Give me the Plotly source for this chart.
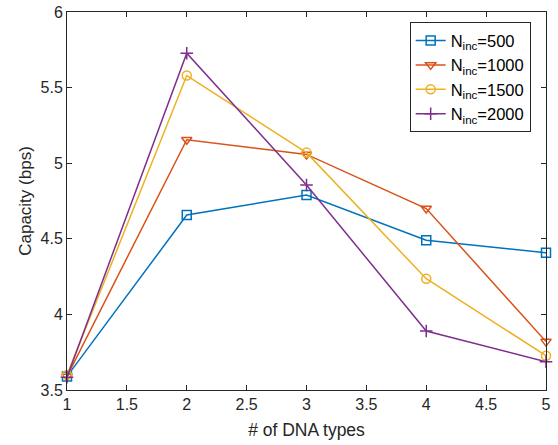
import plotly.graph_objects as go

x_types = [1, 2, 3, 4, 5]
cap_500 = [3.59, 4.657, 4.79, 4.49, 4.408]
cap_1000 = [3.59, 5.155, 5.058, 4.70, 3.82]
cap_1500 = [3.60, 5.58, 5.07, 4.236, 3.727]
cap_2000 = [3.585, 5.727, 4.856, 3.89, 3.687]

series = [
    ("N<sub>inc</sub>=500", cap_500, "#0072BD", "square-open"),
    ("N<sub>inc</sub>=1000", cap_1000, "#D95319", "triangle-down-open"),
    ("N<sub>inc</sub>=1500", cap_1500, "#EDB120", "circle-open"),
    ("N<sub>inc</sub>=2000", cap_2000, "#7E2F8E", "cross-thin-open"),
]

fig = go.Figure()
for name, ys, color, sym in series:
    fig.add_trace(go.Scatter(
        x=x_types, y=ys, mode="lines+markers", name=name, cliponaxis=False,
        line=dict(color=color, width=1.5),
        marker=dict(symbol=sym, size=9, color=color, line=dict(color=color, width=1.5)),
    ))

axis_common = dict(
    showgrid=False, zeroline=False, showline=True, mirror="ticks",
    linecolor="#262626", linewidth=1, ticks="inside", ticklen=5,
    tickcolor="#262626", automargin=False,
    tickfont=dict(family="Liberation Sans, Arial", size=16, color="#262626"),
)

fig.update_layout(
    width=558, height=445,
    margin=dict(l=67, r=12, t=12, b=55, autoexpand=False),
    paper_bgcolor="white", plot_bgcolor="white",
    font=dict(family="Liberation Sans, Arial", color="#262626"),
    xaxis=dict(range=[1, 5], tickvals=[1, 1.5, 2, 2.5, 3, 3.5, 4, 4.5, 5],
               ticktext=["1", "1.5", "2", "2.5", "3", "3.5", "4", "4.5", "5"],
               title=dict(text="# of DNA types", font=dict(size=17.5), standoff=11),
               **axis_common),
    yaxis=dict(range=[3.5, 6], tickvals=[3.5, 4, 4.5, 5, 5.5, 6],
               ticktext=["3.5", "4", "4.5", "5", "5.5", "6"],
               title=dict(text="Capacity (bps)", font=dict(size=17), standoff=4),
               **axis_common),
    legend=dict(x=0.968, y=0.973, xanchor="right", yanchor="top",
                bordercolor="#262626", borderwidth=1, bgcolor="white",
                font=dict(size=16.5, color="black"), tracegroupgap=0,
                itemwidth=30),
    showlegend=True,
)

fig.write_html("out.html")
